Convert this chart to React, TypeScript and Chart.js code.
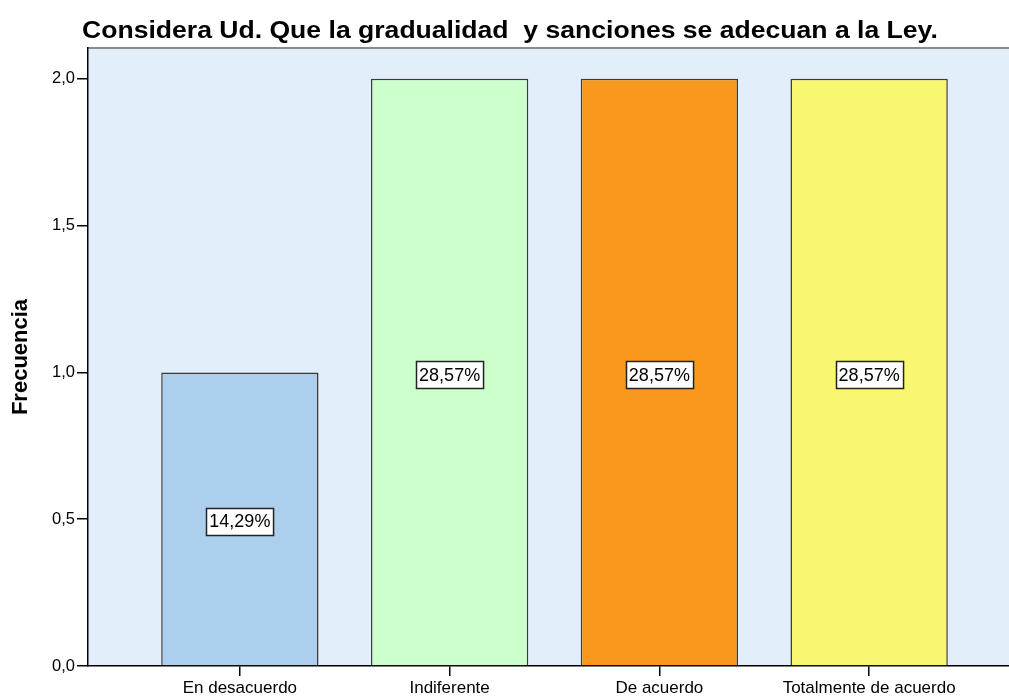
import React, { useEffect, useRef } from "react";
import { Chart, registerables } from "chart.js";

Chart.register(...registerables);

const chartTitle = "Considera Ud. Que la gradualidad  y sanciones se adecuan a la Ley.";
const categories = ["En desacuerdo", "Indiferente", "De acuerdo", "Totalmente de acuerdo"];
const frequencies = [1, 2, 2, 2];
const yTickValues = [0, 0.5, 1, 1.5, 2];
const barColors = ["#ADCFEE", "#CCFFCC", "#F8981D", "#F9F66F"];
const yAxisTitle = "Frecuencia";

const FONT = "'Liberation Sans', Arial, sans-serif";

const fmtComma = (v: number, d: number) => v.toFixed(d).replace(".", ",");

const total = frequencies.reduce((a, b) => a + b, 0);

const bgPlugin = {
  id: "plotBg",
  beforeDraw(chart: any) {
    const { ctx, chartArea } = chart;
    ctx.save();
    ctx.fillStyle = "#E2EEFA";
    ctx.fillRect(chartArea.left, chartArea.top, chartArea.right - chartArea.left, chartArea.bottom - chartArea.top);
    ctx.strokeStyle = "#8a8a8a";
    ctx.lineWidth = 2;
    ctx.beginPath();
    ctx.moveTo(chartArea.left, chartArea.top);
    ctx.lineTo(chartArea.right, chartArea.top);
    ctx.stroke();
    ctx.restore();
  },
};

const titlePlugin = {
  id: "titleText",
  afterDraw(chart: any) {
    const { ctx } = chart;
    ctx.save();
    ctx.font = `bold 23px ${FONT}`;
    ctx.fillStyle = "#000";
    ctx.textAlign = "left";
    ctx.textBaseline = "alphabetic";
    ctx.translate(82, 38);
    ctx.scale(1.155, 1);
    ctx.fillText(chartTitle, 0, 0);
    ctx.restore();
  },
};

const labelPlugin = {
  id: "pctLabels",
  afterDatasetsDraw(chart: any) {
    const { ctx } = chart;
    const meta = chart.getDatasetMeta(0);
    ctx.save();
    ctx.font = `18px ${FONT}`;
    ctx.textAlign = "center";
    ctx.textBaseline = "middle";
    meta.data.forEach((bar: any, i: number) => {
      const text = fmtComma((frequencies[i] / total) * 100, 2) + "%";
      const cy = (bar.y + bar.base) / 2 + 2.5;
      const w = ctx.measureText(text).width + 6;
      const h = 27;
      const x0 = Math.round(bar.x - w / 2) + 0.5;
      const y0 = Math.round(cy - h / 2) + 0.5;
      ctx.fillStyle = "#fff";
      ctx.fillRect(x0, y0, w, h);
      ctx.strokeStyle = "#222";
      ctx.lineWidth = 1.5;
      ctx.strokeRect(x0, y0, w, h);
      ctx.fillStyle = "#000";
      ctx.fillText(text, bar.x, cy + 1);
    });
    ctx.restore();
  },
};

export default function App() {
  const ref = useRef<HTMLCanvasElement | null>(null);

  useEffect(() => {
    if (!ref.current) return;
    const chart = new Chart(ref.current, {
      type: "bar",
      data: {
        datasets: [
          {
            data: frequencies.map((v, i) => ({ x: i, y: v })),
            backgroundColor: barColors,
            borderColor: "#3a3a3a",
            borderWidth: 1.5,
            barPercentage: 0.75,
            categoryPercentage: 1,
          },
        ],
      },
      options: {
        responsive: false,
        devicePixelRatio: 1,
        animation: false,
        layout: { padding: { top: 48, right: 9, left: 0, bottom: 0 } },
        plugins: {
          legend: { display: false },
          tooltip: { enabled: false },
          title: { display: false },
        },
        scales: {
          x: {
            type: "linear",
            offset: false,
            min: -0.724,
            max: 3.724,
            afterBuildTicks: (axis: any) => {
              axis.ticks = categories.map((_, i) => ({ value: i }));
            },
            afterFit: (axis: any) => {
              axis.height = 32;
            },
            ticks: {
              color: "#000",
              font: { family: FONT, size: 17 },
              padding: 2,
              maxRotation: 0,
              autoSkip: false,
              callback: (v: any) => categories[Math.round(Number(v))] ?? "",
            },
            grid: { offset: false, drawOnChartArea: false, tickLength: 10, color: "#000", lineWidth: 1.5 },
            border: { display: true, color: "#000", width: 1.5 },
          },
          y: {
            min: 0,
            max: 2.105,
            afterBuildTicks: (axis: any) => {
              axis.ticks = yTickValues.map((v) => ({ value: v }));
            },
            afterFit: (axis: any) => {
              axis.width = 88;
            },
            ticks: {
              color: "#000",
              font: { family: FONT, size: 16.5 },
              padding: 2,
              callback: (v: any) => fmtComma(Number(v), 1),
            },
            grid: { drawOnChartArea: false, tickLength: 11, color: "#000", lineWidth: 1.5 },
            border: { display: true, color: "#000", width: 1.5 },
            title: {
              display: true,
              text: yAxisTitle,
              color: "#000",
              font: { family: FONT, size: 22, weight: "bold" },
              padding: { top: 8, bottom: 0 },
            },
          },
        },
      },
      plugins: [bgPlugin, labelPlugin, titlePlugin],
    });
    return () => chart.destroy();
  }, []);

  return (
    <div style={{ position: "fixed", left: 0, top: 0, width: 1009, height: 698, overflow: "hidden", background: "#fff" }}>
      <canvas ref={ref} width={1030} height={698} style={{ width: 1030, height: 698, display: "block" }} />
    </div>
  );
}
